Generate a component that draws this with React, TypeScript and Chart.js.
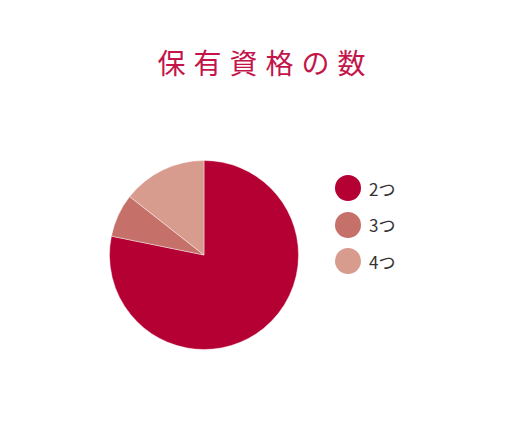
import { useEffect, useRef } from 'react';
import { Chart, registerables } from 'chart.js';

Chart.register(...registerables);

// データ
const labels = ['2つ', '3つ', '4つ'];
const values = [78.2, 7.4, 14.4];
const colors = ['#b50034', '#c6706a', '#d89c8f'];
const title = '保有資格の数';

export default function App() {
  const canvasRef = useRef<HTMLCanvasElement>(null);

  useEffect(() => {
    document.body.style.margin = '0';
    if (!canvasRef.current) return;
    const chart = new Chart(canvasRef.current, {
      type: 'pie',
      data: {
        labels,
        datasets: [{
          data: values,
          backgroundColor: colors,
          borderColor: 'rgba(255,255,255,0.4)',
          borderWidth: 1
        }]
      },
      options: {
        animation: false,
        responsive: true,
        maintainAspectRatio: false,
        layout: { padding: 10 },
        plugins: {
          legend: { display: false },
          title: { display: false },
          tooltip: { enabled: false }
        }
      }
    });
    return () => chart.destroy();
  }, []);

  return (
    <div style={{ position: 'relative', width: 523, height: 446, background: '#fff', fontFamily: '"Noto Sans CJK JP", "Noto Sans", sans-serif' }}>
      {/* タイトル */}
      <div style={{
        position: 'absolute', left: 0, top: 40, width: 523, textAlign: 'center',
        fontSize: 28, letterSpacing: 8, color: '#c3154a', lineHeight: '44px', paddingLeft: 8, boxSizing: 'border-box'
      }}>{title}</div>

      {/* 円グラフ */}
      <div style={{ position: 'absolute', left: 99, top: 150, width: 210, height: 210 }}>
        <canvas ref={canvasRef}></canvas>
      </div>

      {/* 凡例 */}
      <div style={{ position: 'absolute', left: 335, top: 170 }}>
        {labels.map((l, i) => (
          <div key={l} style={{ display: 'flex', alignItems: 'center', height: 36.5 }}>
            <span style={{ width: 26, height: 26, borderRadius: '50%', background: colors[i], display: 'inline-block' }}></span>
            <span style={{ marginLeft: 8, fontSize: 17, color: '#333' }}>{l}</span>
          </div>
        ))}
      </div>
    </div>
  );
}
